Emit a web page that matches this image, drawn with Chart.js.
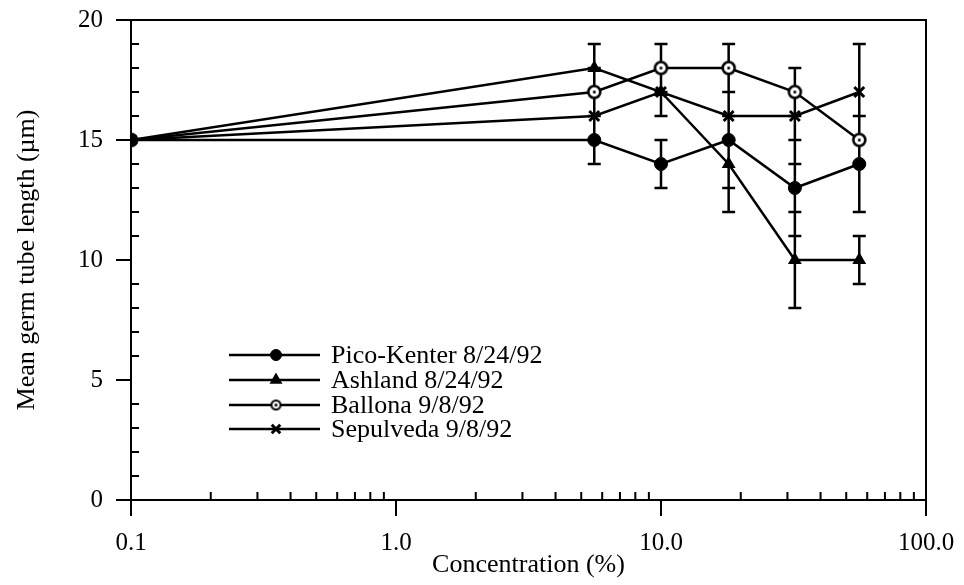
<!DOCTYPE html>
<html><head><meta charset="utf-8">
<script src="https://cdn.jsdelivr.net/npm/chart.js@4.4.1/dist/chart.umd.min.js"></script>
<style>html,body{margin:0;padding:0;background:#fff;} canvas{display:block;}</style>
</head><body>
<canvas id="c" width="964" height="585"></canvas>
<script>
// ---- data ----
const concentrations = [0.1, 5.6, 10, 18, 32, 56];
const seriesNames = ['Pico-Kenter 8/24/92', 'Ashland 8/24/92', 'Ballona 9/8/92', 'Sepulveda 9/8/92'];
const picoKenter = [15, 15, 14, 15, 13, 14];
const picoKenterErr = [0, 1, 1, 2, 2, 2];
const ashland = [15, 18, 17, 14, 10, 10];
const ashlandErr = [0, 1, 1, 2, 2, 1];
const ballona = [15, 17, 18, 18, 17, 15];
const ballonaErr = [0, 1, 1, 1, 1, 1];
const sepulveda = [15, 16, 17, 16, 16, 17];
const sepulvedaErr = [0, 1, 1, 1, 2, 2];
const xTickValues = [0.1, 1, 10, 100];
const yTickValues = [0, 5, 10, 15, 20];
const xTitle = 'Concentration (%)';
const yTitle = 'Mean germ tube length (µm)';

// ---- styling helpers ----
const FONT = {family: "'Liberation Serif', 'Times New Roman', serif", size: 25};
const TITLE_FONT = {family: "'Liberation Serif', 'Times New Roman', serif", size: 26};
const LEGEND_SIZE = 26;
function dotCircle(r, lw) {
  const c = document.createElement('canvas');
  const s = Math.ceil(2 * r + lw + 2);
  c.width = c.height = s;
  const g = c.getContext('2d');
  g.fillStyle = '#fff'; g.strokeStyle = '#000'; g.lineWidth = lw;
  g.beginPath(); g.arc(s / 2, s / 2, r, 0, Math.PI * 2); g.fill(); g.stroke();
  g.fillStyle = '#000';
  g.beginPath(); g.arc(s / 2, s / 2, 1.5, 0, Math.PI * 2); g.fill();
  return c;
}
const ballonaPoint = dotCircle(6, 2.5);
const ballonaLegendPoint = dotCircle(4.5, 2);

function pts(vals) { return vals.map((v, i) => ({x: concentrations[i], y: v})); }

const seriesVals = [picoKenter, ashland, ballona, sepulveda];
const seriesErrs = [picoKenterErr, ashlandErr, ballonaErr, sepulvedaErr];
const styles = [
  {pointStyle: 'circle', pointRadius: 6.5, bg: '#000', bw: 1, legendR: 5.5},
  {pointStyle: 'triangle', pointRadius: 6.5, bg: '#000', bw: 1.5, legendR: 6},
  {pointStyle: ballonaPoint, pointRadius: 6, bg: '#fff', bw: 2.5, legendR: 4.5},
  {pointStyle: 'crossRot', pointRadius: 7, bg: '#000', bw: 3, legendR: 6}
];

const datasets = seriesVals.map((vals, i) => ({
  label: seriesNames[i],
  data: pts(vals),
  borderColor: '#000',
  borderWidth: 2.5,
  backgroundColor: styles[i].bg,
  pointStyle: styles[i].pointStyle,
  pointRadius: styles[i].pointRadius,
  pointBorderWidth: styles[i].bw,
  pointBorderColor: '#000',
  pointBackgroundColor: styles[i].bg,
  tension: 0,
  fill: false
}));

// ---- plugins ----
const framePlugin = {
  id: 'frame',
  beforeDatasetsDraw(chart) {
    const {ctx, chartArea: a, scales: {x, y}} = chart;
    ctx.save();
    ctx.strokeStyle = '#000';
    ctx.lineWidth = 2;
    ctx.strokeRect(a.left, a.top, a.right - a.left, a.bottom - a.top);
    ctx.beginPath();
    xTickValues.forEach(v => { const px = x.getPixelForValue(v); ctx.moveTo(px, a.bottom); ctx.lineTo(px, a.bottom + 16); });
    for (let d = 0.1; d < 99; d *= 10) {
      for (let k = 2; k <= 9; k++) {
        const px = x.getPixelForValue(k * d);
        ctx.moveTo(px, a.bottom); ctx.lineTo(px, a.bottom - 8);
      }
    }
    for (let v = 0; v <= 20; v++) {
      const py = y.getPixelForValue(v);
      if (v % 5 === 0) { ctx.moveTo(a.left - 15, py); ctx.lineTo(a.left, py); }
      else { ctx.moveTo(a.left, py); ctx.lineTo(a.left + 8, py); }
    }
    ctx.stroke();
    ctx.restore();
  }
};

const errorBarPlugin = {
  id: 'errbars',
  beforeDatasetsDraw(chart) {
    const {ctx, scales: {x, y}} = chart;
    ctx.save();
    ctx.strokeStyle = '#000';
    ctx.lineWidth = 2.5;
    ctx.beginPath();
    seriesVals.forEach((vals, i) => {
      vals.forEach((v, j) => {
        const e = seriesErrs[i][j];
        if (!e) return;
        const px = x.getPixelForValue(concentrations[j]);
        const pt = y.getPixelForValue(v + e), pb = y.getPixelForValue(v - e);
        ctx.moveTo(px, pt); ctx.lineTo(px, pb);
        ctx.moveTo(px - 6.5, pt); ctx.lineTo(px + 6.5, pt);
        ctx.moveTo(px - 6.5, pb); ctx.lineTo(px + 6.5, pb);
      });
    });
    ctx.stroke();
    ctx.restore();
  }
};

const legendPlugin = {
  id: 'customLegend',
  afterDraw(chart) {
    const {ctx} = chart;
    const rows = [355, 380, 405, 429];
    const x0 = 229, x1 = 320, mx = 276, tx = 331;
    ctx.save();
    ctx.font = LEGEND_SIZE + 'px ' + FONT.family;
    ctx.textBaseline = 'middle';
    ctx.textAlign = 'left';
    chart.data.datasets.forEach((ds, i) => {
      const yy = rows[i];
      ctx.strokeStyle = '#000';
      ctx.lineWidth = 2.5;
      ctx.beginPath(); ctx.moveTo(x0, yy); ctx.lineTo(x1, yy); ctx.stroke();
      const st = i === 2 ? ballonaLegendPoint : styles[i].pointStyle;
      ctx.fillStyle = styles[i].bg;
      ctx.strokeStyle = '#000';
      ctx.lineWidth = styles[i].bw;
      Chart.helpers.drawPoint(ctx, {pointStyle: st, radius: styles[i].legendR, rotation: 0, borderWidth: styles[i].bw}, mx, yy);
      ctx.fillStyle = '#000';
      ctx.fillText(ds.label, tx, yy + 1);
    });
    ctx.restore();
  }
};

function zeroPad(s) { s.paddingTop = 0; s.paddingBottom = 0; s.paddingLeft = 0; s.paddingRight = 0; }

new Chart(document.getElementById('c'), {
  type: 'line',
  data: {datasets},
  options: {
    responsive: false,
    animation: false,
    events: [],
    layout: {padding: {top: 20, right: 38, left: 0, bottom: 0}},
    plugins: {legend: {display: false}, tooltip: {enabled: false}},
    scales: {
      x: {
        type: 'logarithmic', position: 'bottom', min: 0.1, max: 100,
        afterBuildTicks: s => { s.ticks = xTickValues.map(v => ({value: v})); },
        afterFit: s => { s.height = 85; zeroPad(s); },
        grid: {display: false, drawTicks: false},
        border: {display: false},
        ticks: {autoSkip: false, maxRotation: 0, padding: 28, font: FONT, color: '#000',
          callback: v => Number(v).toFixed(1)},
        title: {display: true, text: xTitle, font: TITLE_FONT, color: '#000', padding: {top: 0, bottom: 4}}
      },
      y: {
        type: 'linear', min: 0, max: 20,
        afterBuildTicks: s => { s.ticks = yTickValues.map(v => ({value: v})); },
        afterFit: s => { s.width = 131; zeroPad(s); },
        grid: {display: false, drawTicks: false},
        border: {display: false},
        ticks: {padding: 28, font: FONT, color: '#000', callback: v => String(v)},
        title: {display: true, text: yTitle, font: TITLE_FONT, color: '#000', padding: {top: 12, bottom: 0}}
      }
    }
  },
  plugins: [framePlugin, errorBarPlugin, legendPlugin]
});
</script>
</body></html>
